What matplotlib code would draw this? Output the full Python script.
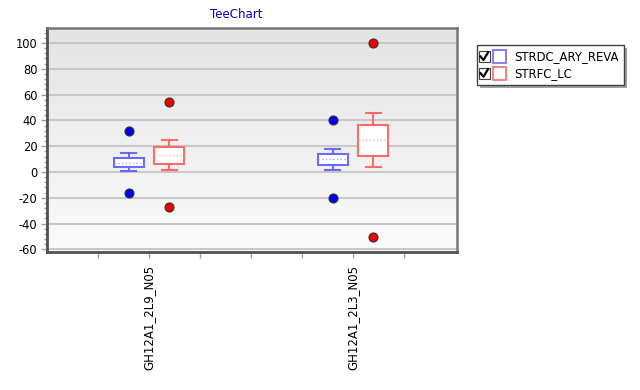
import numpy as np
import matplotlib.pyplot as plt
from matplotlib.patches import Rectangle
from matplotlib.colors import LinearSegmentedColormap

plt.rcParams['font.family'] = ['DejaVu Sans']
plt.rcParams['axes.unicode_minus'] = False

# data
categories = ['GH12A1_2L9_N05', 'GH12A1_2L3_N05']
series = ['STRDC_ARY_REVA', 'STRFC_LC']

# per category: lower whisker, q1, median, q3, upper whisker
blue_whislo = [0.5, 1.8]
blue_q1 = [3.6, 5.7]
blue_med = [7.2, 10.0]
blue_q3 = [10.5, 14.0]
blue_whishi = [14.4, 18.0]
blue_fliers = [[31.5, -16.5], [40.0, -20.0]]

red_whislo = [1.2, 4.0]
red_q1 = [5.9, 12.4]
red_med = [13.2, 24.8]
red_q3 = [19.4, 36.4]
red_whishi = [24.5, 46.0]
red_fliers = [[54.5, -27.5], [100.0, -50.0]]

W, H = 640, 390
fig = plt.figure(figsize=(W / 100, H / 100), dpi=100)
fig.patch.set_facecolor('white')

ax = fig.add_axes([47 / W, 1 - 252 / H, 410 / W, 224 / H])

# background gradient
grad = np.linspace(0, 1, 256).reshape(-1, 1)
ax.imshow(grad, extent=[0, 1, 0, 1], transform=ax.transAxes, aspect='auto',
          cmap=LinearSegmentedColormap.from_list('bg', ['#fbfbfb', '#e4e4e4']),
          origin='lower', zorder=0)


def make_stats(lo, q1, med, q3, hi, fl):
    return [dict(whislo=lo[i], q1=q1[i], med=med[i], q3=q3[i], whishi=hi[i],
                 fliers=fl[i]) for i in range(len(lo))]


def draw(stats, offset, col, medcol, fillcol):
    pos = np.arange(len(stats)) + offset
    ax.bxp(stats, positions=pos, widths=0.147, patch_artist=True,
           showcaps=True, manage_ticks=False,
           boxprops=dict(facecolor='white', edgecolor=col, linewidth=1.5),
           whiskerprops=dict(color=col, linewidth=1.5),
           capprops=dict(color=col, linewidth=1.5),
           medianprops=dict(color=medcol, linewidth=1.0, linestyle=':'),
           flierprops=dict(marker='o', markerfacecolor=fillcol,
                           markeredgecolor='#333333', markersize=6.5,
                           markeredgewidth=0.8),
           zorder=3)


draw(make_stats(blue_whislo, blue_q1, blue_med, blue_q3, blue_whishi, blue_fliers),
     -0.1, '#6a6aff', '#aaaaff', '#0000ee')
draw(make_stats(red_whislo, red_q1, red_med, red_q3, red_whishi, red_fliers),
     0.1, '#ff6a6a', '#ffaaaa', '#ee0000')

ax.set_xlim(-0.5, 1.51)
ax.set_ylim(-62, 111.6)
ax.set_yticks(np.arange(-60, 101, 20))
ax.set_yticks(np.arange(-60, 112, 4), minor=True)
ax.set_xticks(range(len(categories)))
ax.set_xticklabels(categories, rotation=90, va='top')
ax.set_xticks(np.arange(-0.25, 1.3, 0.25), minor=True)
ax.yaxis.grid(True, color='#c8c8c8', linewidth=1.5, zorder=1)
ax.set_axisbelow(True)

ax.tick_params(axis='y', which='major', length=4, width=1, color='#a0a0a0',
               labelsize=8.3, pad=3)
ax.tick_params(axis='y', which='minor', length=2, width=1, color='#a0a0a0')
ax.tick_params(axis='x', which='major', length=4, width=1, color='#a0a0a0',
               labelsize=8.5, pad=5)
ax.tick_params(axis='x', which='minor', length=4, width=1, color='#a0a0a0')

for s in ['left', 'bottom']:
    ax.spines[s].set_color('#505050')
    ax.spines[s].set_linewidth(2)
for s in ['top', 'right']:
    ax.spines[s].set_color('#787878')
    ax.spines[s].set_linewidth(1.8)

fig.text(236 / W, 1 - 15 / H, 'TeeChart', color='#0000cc', fontsize=8.5,
         ha='center', va='center')

# legend drawn in pixel coordinates
lg = fig.add_axes([0, 0, 1, 1])
lg.set_xlim(0, W)
lg.set_ylim(H, 0)
lg.axis('off')
lg.add_patch(Rectangle((480, 48), 147, 40, facecolor='#7a7a7a', edgecolor='none',
                       alpha=0.7))
lg.add_patch(Rectangle((477, 45), 147, 40, facecolor='white', edgecolor='#404040',
                       linewidth=1))
legend_cols = ['#6a6aff', '#ff6a6a']
for i, name in enumerate(series):
    yc = 56.5 + i * 16.7
    lg.add_patch(Rectangle((478.5, yc - 5.5), 11, 11, facecolor='white',
                           edgecolor='#404040', linewidth=0.8))
    lg.plot([480.5, 483.5, 488], [yc, yc + 3.5, yc - 4], color='black',
            linewidth=1.6)
    lg.add_patch(Rectangle((493, yc - 6.5), 13, 13, facecolor='white',
                           edgecolor=legend_cols[i], linewidth=1.2))
    lg.text(514, yc, name, fontsize=8.4, va='center', ha='left', color='black')

fig.savefig('out.png', dpi=100, facecolor='white')
